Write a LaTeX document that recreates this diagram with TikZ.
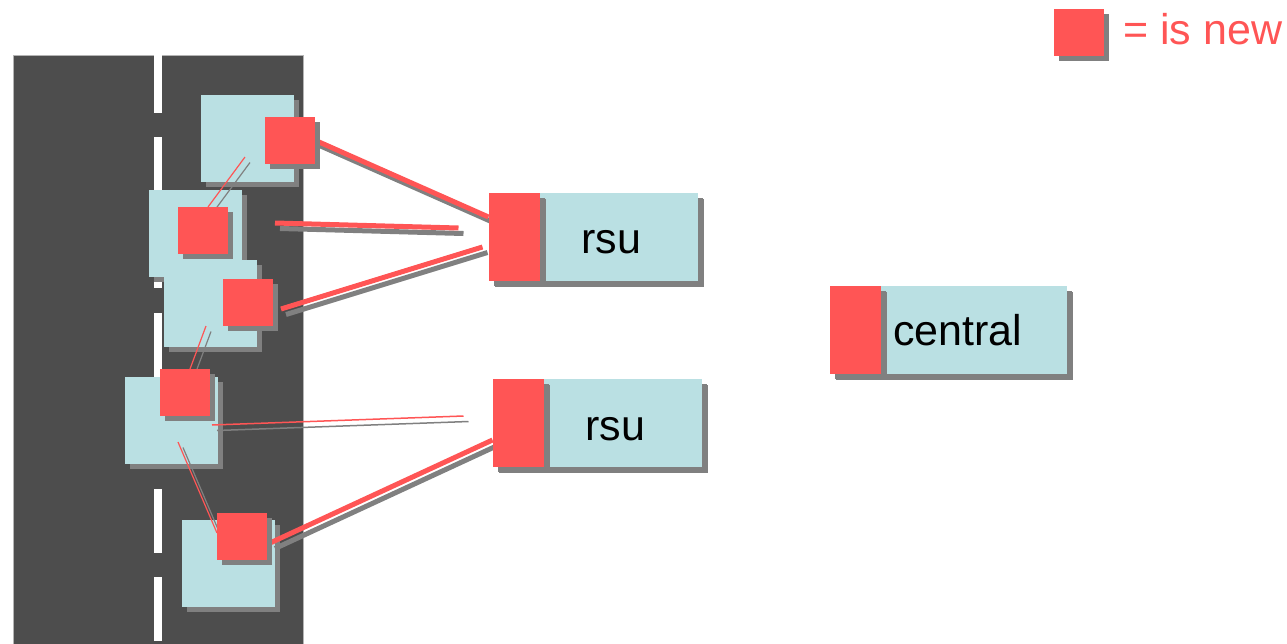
\documentclass[tikz,border=0pt]{standalone}
\usepackage{fontspec}
\setmainfont{Liberation Sans}
\usetikzlibrary{positioning, shadows}

\definecolor{newred}{HTML}{FF5555}
\definecolor{carblue}{HTML}{BAE0E3}
\definecolor{asphalt}{HTML}{4D4D4D}
\definecolor{kerb}{HTML}{B4B4B4}
\definecolor{shade}{HTML}{808080}

\pgfdeclarelayer{ground}
\pgfdeclarelayer{air}
\pgfsetlayers{ground,air,main}

\begin{document}
\begin{tikzpicture}[x=1pt, y=-1pt, font=\fontsize{43}{50}\selectfont,
    box/.style={rectangle, inner sep=0pt, outer sep=0pt,
      drop shadow={shadow xshift=5pt, shadow yshift=-5pt, fill=shade, opacity=1}},
    car/.style={box, fill=carblue, minimum width=93pt, minimum height=87pt},
    tag/.style={box, fill=newred, minimum width=50pt, minimum height=47pt},
    unit/.style={box, fill=carblue, minimum height=88pt,
      drop shadow={shadow xshift=6pt, shadow yshift=-6pt, fill=shade, opacity=1}},
    port/.style={unit, fill=newred, minimum width=51pt},
    txt/.style={anchor=base, inner sep=0pt},
    link/.style={draw=newred, line width=#1,
      preaction={draw=shade, line width=#1, transform canvas={shift={(5pt,-5.5pt)}}}},
    link/.default=5pt,
    radio/.style={link=#1},
    radio/.default=1.2pt]
  \useasboundingbox (0,0) rectangle (1287,643);

  \begin{pgfonlayer}{ground}
    % road and lane marking
    \filldraw[fill=asphalt, draw=kerb, line width=1pt] (13,55) rectangle (303,660);
    \foreach \a/\b in {54/113, 137/288, 313/465, 489/553, 577/641}
      \fill[white] (154,\a) rectangle (162,\b);
    % vehicles
    \node[car] (c1) at (247,138) {};
    \node[car] (c2) at (195.5,233.5) {};
    \node[car] (c3) at (210.5,303.5) {};
    \node[car] (c4) at (171.5,420) {};
    \node[car] (c5) at (228.5,563.5) {};
  \end{pgfonlayer}

  % new parts on the vehicles
  \node[tag] (c1r) at (289.5,140) {};
  \node[tag] (c2r) at (203,230.5) {};
  \node[tag] (c3r) at (248,302.5) {};
  \node[tag] (c4r) at (185,392.5) {};
  \node[tag] (c5r) at (242,536.5) {};

  % road side units and central
  \node[unit, minimum width=158pt] (rsu1b) at (618.5,237) {};
  \node[port, left=0pt of rsu1b] (rsu1r) {};
  \node[txt] (rsu1t) at (611.5,253) {rsu};
  \node[unit, minimum width=158pt] (rsu2b) at (622.5,423) {};
  \node[port, left=0pt of rsu2b] (rsu2r) {};
  \node[txt] (rsu2t) at (615.5,440) {rsu};
  \node[unit, minimum width=186pt] (cenb) at (974,330) {};
  \node[port, left=0pt of cenb] (cenr) {};
  \node[txt, anchor=base west] (cent) at (893,345) {central};

  % legend
  \node[tag] (key) at (1079,32.5) {};
  \node[txt, anchor=base west, text=newred] (keyt) at (1123,44) {= is new};

  \begin{pgfonlayer}{air}
    % vehicle to vehicle
    \draw[radio] ([shift={(-2,19)}]c1.center) -- ([shift={(5,0)}]c2r.north);
    \draw[radio] ([shift={(-4.5,22.5)}]c3.center) -- ([shift={(5,0)}]c4r.north);
    \draw[radio] ([shift={(6.5,22)}]c4.center) -- ([shift={(0,-3.5)}]c5r.west);
    \draw[radio=1.5pt] ([shift={(-6,5)}]c4.east) -- ([shift={(-29,-7)}]rsu2r.west);
    % vehicle to rsu
    \draw[link] (c1r.east) -- ([shift={(0,-20)}]rsu1r.west);
    \draw[link] ([shift={(47,-7.5)}]c2r.east) -- ([shift={(-30,-9)}]rsu1r.west);
    \draw[link] ([shift={(8,6.5)}]c3r.east) -- ([shift={(-6,10)}]rsu1r.west);
    \draw[link] ([shift={(3,6.5)}]c5r.east) -- ([shift={(0,17)}]rsu2r.west);
  \end{pgfonlayer}
\end{tikzpicture}
\end{document}
